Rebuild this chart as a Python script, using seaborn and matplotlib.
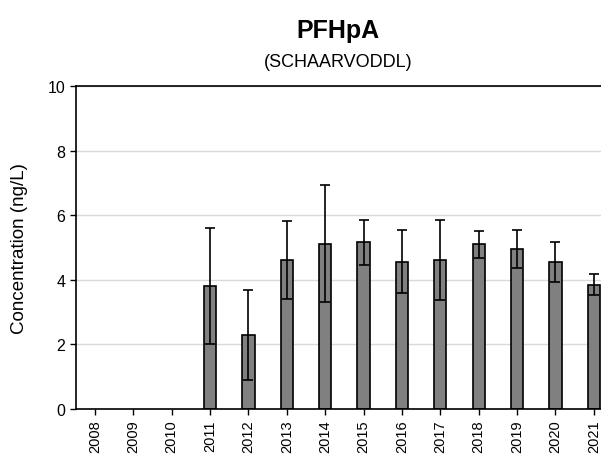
import numpy as np
import pandas as pd
import matplotlib
matplotlib.use('Agg')
import matplotlib.pyplot as plt
import seaborn as sns

# Dados
anos = ['2008', '2009', '2010', '2011', '2012', '2013', '2014',
        '2015', '2016', '2017', '2018', '2019', '2020', '2021']
concentracao = [np.nan, np.nan, np.nan, 3.80, 2.29, 4.61, 5.12,
                5.16, 4.56, 4.61, 5.09, 4.96, 4.56, 3.85]
erro = [np.nan, np.nan, np.nan, 1.80, 1.40, 1.22, 1.80,
        0.70, 0.97, 1.25, 0.42, 0.59, 0.62, 0.32]

sns.set_style('white')
plt.rcParams['font.family'] = ['Liberation Sans', 'DejaVu Sans']
plt.rcParams['text.color'] = 'black'
plt.rcParams['xtick.color'] = 'black'
plt.rcParams['ytick.color'] = 'black'
plt.rcParams['axes.labelcolor'] = 'black'

df = pd.DataFrame({'ano': anos, 'conc': concentracao, 'erro': erro})

fig = plt.figure(figsize=(6.01, 4.60), dpi=100)
ax = fig.add_axes([0.126, 0.109, 0.894, 0.702])

sns.barplot(data=df, x='ano', y='conc', color='#808080', width=0.32,
            edgecolor='black', linewidth=1.2, saturation=1, ax=ax, errorbar=None)

xs = np.arange(len(anos))
ax.errorbar(xs, df['conc'], yerr=df['erro'], fmt='none', ecolor='black',
            elinewidth=1.2, capsize=3.5, capthick=1.2)

ax.set_ylim(0, 10)
ax.set_xlim(-0.5, len(anos) - 0.5)
ax.set_yticks([0, 2, 4, 6, 8, 10])
ax.yaxis.grid(True, color='#d9d9d9', linewidth=1)
ax.set_axisbelow(True)
ax.set_xlabel('')
ax.set_ylabel('Concentration (ng/L)', fontsize=13.5, labelpad=14)
ax.tick_params(axis='x', rotation=90, labelsize=10.5, direction='out', length=4, width=1)
ax.tick_params(axis='y', labelsize=11.5, direction='out', length=4, width=1)
ax.tick_params(bottom=True, left=True)
for s in ['left', 'bottom', 'top']:
    ax.spines[s].set_color('black')
    ax.spines[s].set_linewidth(1.2)
ax.spines['right'].set_visible(False)

fig.text(0.563, 0.933, 'PFHpA', ha='center', va='center', fontsize=18, fontweight='bold')
fig.text(0.563, 0.864, '(SCHAARVODDL)', ha='center', va='center', fontsize=13)

fig.savefig('out.png', dpi=100, facecolor='white')
plt.close(fig)
